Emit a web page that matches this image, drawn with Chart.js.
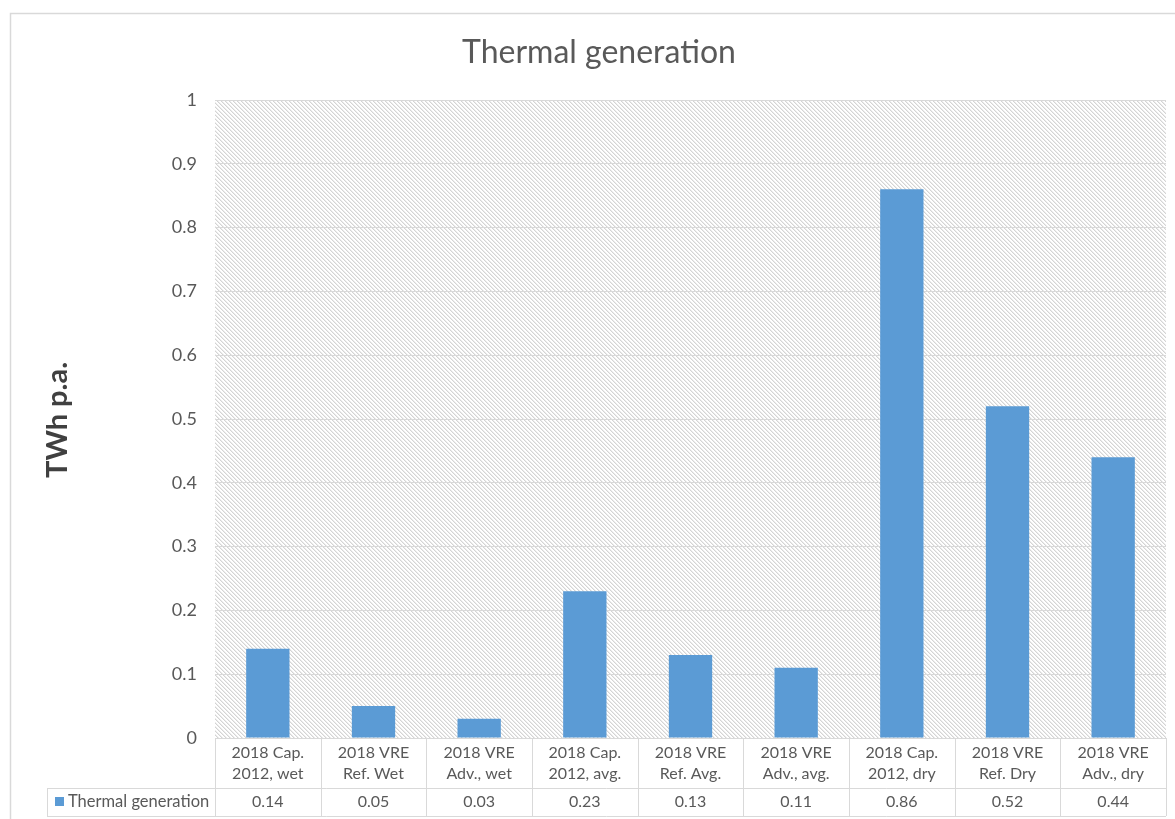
<!DOCTYPE html>
<html>
<head>
<meta charset="utf-8">
<title>Thermal generation</title>
<script src="https://cdn.jsdelivr.net/npm/chart.js@4.4.1/dist/chart.umd.min.js"></script>
<style>
  html, body { margin: 0; padding: 0; background: #ffffff; }
  #c { display: block; }
</style>
</head>
<body>
<canvas id="c" width="1175" height="819"></canvas>
<script>
// ---- data ----
const chartTitle = "Thermal generation";
const seriesName = "Thermal generation";
const axisTitle = "TWh p.a.";
const categories = [
  ["2018 Cap.", "2012, wet"],
  ["2018 VRE", "Ref. Wet"],
  ["2018 VRE", "Adv., wet"],
  ["2018 Cap.", "2012, avg."],
  ["2018 VRE", "Ref. Avg."],
  ["2018 VRE", "Adv., avg."],
  ["2018 Cap.", "2012, dry"],
  ["2018 VRE", "Ref. Dry"],
  ["2018 VRE", "Adv., dry"]
];
const thermalGeneration = [0.14, 0.05, 0.03, 0.23, 0.13, 0.11, 0.86, 0.52, 0.44];
const yTickValues = [0, 0.1, 0.2, 0.3, 0.4, 0.5, 0.6, 0.7, 0.8, 0.9, 1];
const yTickLabels = ["0", "0.1", "0.2", "0.3", "0.4", "0.5", "0.6", "0.7", "0.8", "0.9", "1"];

// ---- styling ----
const BAR_COLOR = "#5b9bd5";
const LINE_COLOR = "#d9d9d9";
const TEXT_COLOR = "#595959";
const FONT = "Lato, 'Open Sans', sans-serif";

Chart.defaults.font.family = FONT;

// diagonal hatch used as the plot-area fill
function makeHatch() {
  const t = document.createElement("canvas");
  t.width = 4; t.height = 4;
  const g = t.getContext("2d");
  g.fillStyle = "#ffffff";
  g.fillRect(0, 0, 4, 4);
  for (let x = 0; x < 4; x++) {
    for (let y = 0; y < 4; y++) {
      const d = ((x - y) % 4 + 4) % 4;
      if (d === 0) { g.fillStyle = "#d4d4d4"; g.fillRect(x, y, 1, 1); }
      else if (d === 1) { g.fillStyle = "#ececec"; g.fillRect(x, y, 1, 1); }
    }
  }
  return t;
}

const backdrop = {
  id: "backdrop",
  beforeDraw(chart) {
    const { ctx, chartArea: a } = chart;
    ctx.save();
    ctx.fillStyle = "#ffffff";
    ctx.fillRect(0, 0, chart.width, chart.height);
    // outer frame
    ctx.strokeStyle = LINE_COLOR;
    ctx.lineWidth = 1.5;
    ctx.strokeRect(10.5, 13.5, chart.width + 40, chart.height + 40);
    // hatched plot area
    ctx.fillStyle = ctx.createPattern(makeHatch(), "repeat");
    ctx.fillRect(a.left, a.top, a.right - a.left, a.bottom - a.top);
    ctx.restore();
  }
};

// chart title and rotated value-axis title
const titles = {
  id: "titles",
  afterDraw(chart) {
    const { ctx, chartArea: a } = chart;
    ctx.save();
    ctx.textAlign = "center";
    ctx.textBaseline = "alphabetic";
    ctx.fillStyle = TEXT_COLOR;
    ctx.font = "32px " + FONT;
    ctx.fillText(chartTitle, 599, 63);
    ctx.translate(67, (a.top + a.bottom) / 2 + 1);
    ctx.rotate(-Math.PI / 2);
    ctx.fillStyle = "#404040";
    ctx.font = "bold 29px " + FONT;
    ctx.fillText(axisTitle, 0, 0);
    ctx.restore();
  }
};

// data table under the plot: category headers, legend key and values
const dataTable = {
  id: "dataTable",
  afterDraw(chart) {
    const { ctx, chartArea: a } = chart;
    const xs = chart.scales.x;
    const n = categories.length;
    const colW = (a.right - a.left) / n;
    const headBottom = a.bottom + 50;
    const tableBottom = a.bottom + 78;
    const legendLeft = 47;
    const px = v => Math.round(v) + 0.5;

    ctx.save();
    ctx.strokeStyle = LINE_COLOR;
    ctx.lineWidth = 1;
    ctx.beginPath();
    ctx.moveTo(a.left, px(a.bottom)); ctx.lineTo(a.right, px(a.bottom));
    ctx.moveTo(legendLeft, px(headBottom)); ctx.lineTo(a.right, px(headBottom));
    ctx.moveTo(legendLeft, px(tableBottom)); ctx.lineTo(a.right, px(tableBottom));
    ctx.moveTo(px(legendLeft), headBottom); ctx.lineTo(px(legendLeft), tableBottom);
    for (let i = 0; i <= n; i++) {
      const x = px(xs.getPixelForValue(0) - colW / 2 + i * colW);
      ctx.moveTo(x, a.bottom); ctx.lineTo(x, tableBottom);
    }
    ctx.stroke();

    ctx.fillStyle = TEXT_COLOR;
    ctx.font = "16px " + FONT;
    ctx.textAlign = "center";
    ctx.textBaseline = "middle";
    categories.forEach((lines, i) => {
      const cx = xs.getPixelForValue(i);
      lines.forEach((s, j) => ctx.fillText(s, cx, a.bottom + 15 + j * 21));
      ctx.fillText(String(thermalGeneration[i]), cx, a.bottom + 64);
    });

    // legend key
    ctx.fillStyle = BAR_COLOR;
    ctx.fillRect(55, a.bottom + 59, 9, 9);
    ctx.fillStyle = TEXT_COLOR;
    ctx.textAlign = "left";
    ctx.font = "16.5px " + FONT;
    ctx.fillText(seriesName, 68, a.bottom + 64);
    ctx.restore();
  }
};

new Chart(document.getElementById("c"), {
  type: "bar",
  data: {
    labels: categories.map(c => c.join(" ")),
    datasets: [{
      label: seriesName,
      data: thermalGeneration,
      backgroundColor: BAR_COLOR,
      borderWidth: 0,
      categoryPercentage: 1,
      barPercentage: 0.41
    }]
  },
  options: {
    responsive: false,
    animation: false,
    devicePixelRatio: 1,
    layout: { padding: { top: 100, right: 9, bottom: 81, left: 0 } },
    plugins: {
      legend: { display: false },
      tooltip: { enabled: false },
      title: { display: false }
    },
    scales: {
      x: { display: false },
      y: {
        min: 0,
        max: 1,
        afterFit(scale) { scale.width = 215; },
        afterBuildTicks(scale) { scale.ticks = yTickValues.map(v => ({ value: v })); },
        ticks: {
          color: TEXT_COLOR,
          font: { family: FONT, size: 18 },
          padding: 18,
          callback: (v, i) => yTickLabels[i]
        },
        grid: { color: LINE_COLOR, lineWidth: 1, drawTicks: false },
        border: { display: false },
        title: { display: false }
      }
    }
  },
  plugins: [backdrop, titles, dataTable]
});
</script>
</body>
</html>
